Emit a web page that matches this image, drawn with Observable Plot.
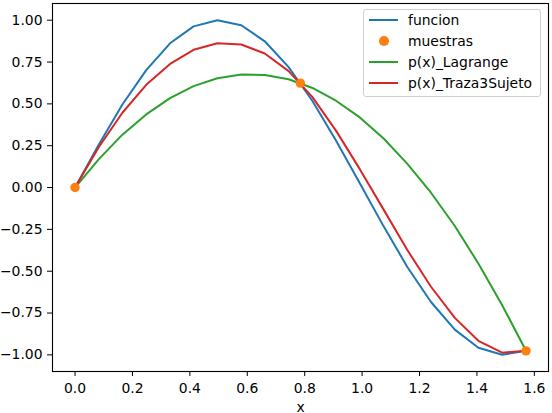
<!DOCTYPE html>
<html>
<head>
<meta charset="utf-8">
<script src="https://cdn.jsdelivr.net/npm/d3@7"></script>
<script src="https://cdn.jsdelivr.net/npm/@observablehq/plot@0.6"></script>
<style>
  body { margin: 0; background: #fff; }
  #wrap { position: relative; width: 552px; height: 413px; font-family: "DejaVu Sans", sans-serif; }
  .legend {
    position: absolute; left: 363px; top: 9px; width: 176px; height: 86px;
    border: 1px solid #d0d0d0; border-radius: 3px; background: rgba(255,255,255,0.8);
    font-size: 13.9px; color: #000;
  }
  .legend .row { position: absolute; left: 0; width: 176px; height: 16px; line-height: 16px; }
  .legend .key { position: absolute; left: 5px; width: 29px; top: 7px; height: 2px; }
  .legend .dot { position: absolute; left: 15px; top: 3.3px; width: 9.5px; height: 9.5px; border-radius: 50%; }
  .legend .lab { position: absolute; left: 44px; white-space: nowrap; }
</style>
</head>
<body>
<div id="wrap"></div>
<script>
// muestreo de la funcion (20 puntos entre 0 y pi/2)
const xs = [0, 0.083, 0.165, 0.248, 0.331, 0.413, 0.496, 0.579, 0.661, 0.744,
            0.827, 0.909, 0.992, 1.075, 1.157, 1.240, 1.323, 1.405, 1.488, 1.571];
const funcion = [0, 0.257, 0.496, 0.702, 0.862, 0.963, 1.000, 0.970, 0.874, 0.720,
                 0.517, 0.281, 0.025, -0.232, -0.473, -0.684, -0.849, -0.957, -0.999, -0.975];
const lagrange = [0, 0.170, 0.316, 0.437, 0.534, 0.606, 0.653, 0.675, 0.673, 0.647,
                  0.595, 0.519, 0.419, 0.293, 0.143, -0.031, -0.230, -0.454, -0.703, -0.975];
const traza = [0, 0.242, 0.447, 0.614, 0.739, 0.823, 0.862, 0.855, 0.801, 0.696,
               0.540, 0.340, 0.110, -0.132, -0.372, -0.593, -0.779, -0.916, -0.987, -0.976];
const muestrasX = [0, 0.785, 1.571];
const muestrasY = [0, 0.624, -0.976];

const xTicks = [0, 0.2, 0.4, 0.6, 0.8, 1.0, 1.2, 1.4, 1.6];
const yTicks = [-1, -0.75, -0.5, -0.25, 0, 0.25, 0.5, 0.75, 1];

const series = [
  {name: "funcion", ys: funcion, color: "#1f77b4"},
  {name: "p(x)_Lagrange", ys: lagrange, color: "#2ca02c"},
  {name: "p(x)_Traza3Sujeto", ys: traza, color: "#d62728"}
];
const curvas = series.map(s => ({...s, pts: xs.map((x, i) => ({x, y: s.ys[i]}))}));
const puntos = muestrasX.map((x, i) => ({x, y: muestrasY[i]}));

const chart = Plot.plot({
  width: 552,
  height: 413,
  marginLeft: 52,
  marginRight: 4,
  marginTop: 3,
  marginBottom: 42,
  style: {fontFamily: "DejaVu Sans", fontSize: "13.9px", color: "#000", background: "#fff"},
  x: {domain: [-0.0785, 1.6493]},
  y: {domain: [-1.0994, 1.0999]},
  marks: [
    ...curvas.map(c => Plot.line(c.pts, {x: "x", y: "y", stroke: c.color, strokeWidth: 2})),
    Plot.dot(puntos, {x: "x", y: "y", r: 4.7, fill: "#ff7f0e", stroke: null}),
    Plot.axisX({ticks: xTicks, tickFormat: d3.format(".1f"), tickSize: 5, tickPadding: 6.5,
                label: "x", labelAnchor: "center", labelArrow: false, labelOffset: 40}),
    Plot.axisY({ticks: yTicks, tickFormat: d3.format(".2f"), tickSize: 5, tickPadding: 5, label: null}),
    Plot.frame({stroke: "#000", strokeWidth: 1.1})
  ]
});

const wrap = document.getElementById("wrap");
wrap.append(chart);

// leyenda dentro del area del grafico, arriba a la derecha
const leg = d3.select(wrap).append("div").attr("class", "legend");
const entradas = [
  {name: "funcion", color: "#1f77b4", type: "line"},
  {name: "muestras", color: "#ff7f0e", type: "dot"},
  {name: "p(x)_Lagrange", color: "#2ca02c", type: "line"},
  {name: "p(x)_Traza3Sujeto", color: "#d62728", type: "line"}
];
entradas.forEach((e, i) => {
  const row = leg.append("div").attr("class", "row").style("top", (2 + i * 21) + "px");
  row.append("div").attr("class", e.type === "line" ? "key" : "dot").style("background", e.color);
  row.append("div").attr("class", "lab").text(e.name);
});
</script>
</body>
</html>
